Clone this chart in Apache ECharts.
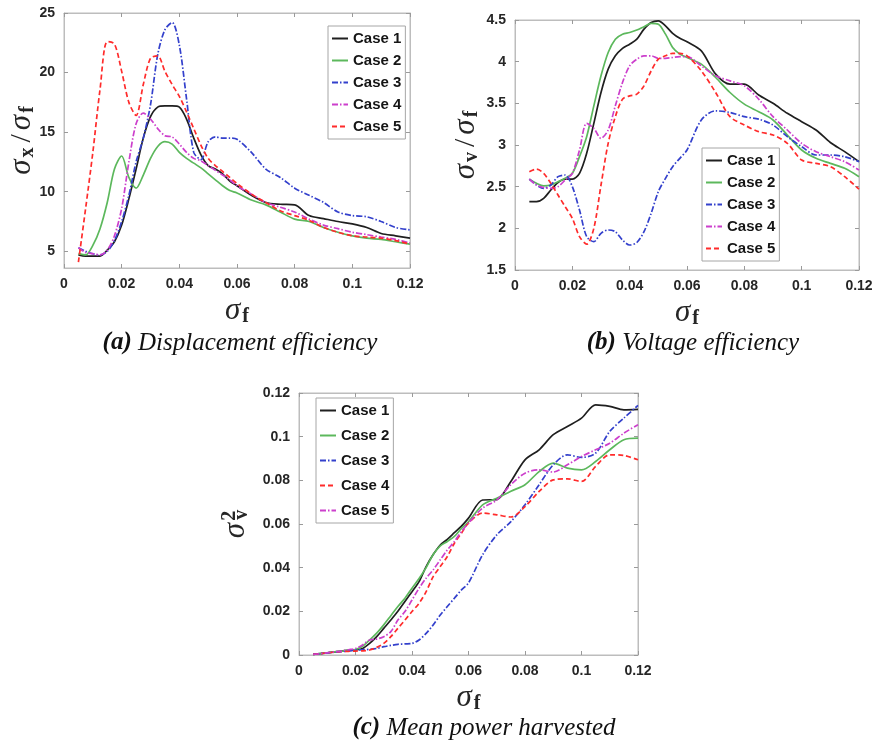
<!DOCTYPE html>
<html><head><meta charset="utf-8">
<script src="https://cdn.jsdelivr.net/npm/echarts@6/dist/echarts.min.js"></script>
<style>
body{margin:0;background:#fff;width:880px;height:744px;position:relative;overflow:hidden}
.p{position:absolute}
</style></head>
<body>
<div id="a" class="p" style="left:0;top:0;width:440px;height:360px"></div>
<div id="b" class="p" style="left:440px;top:0;width:440px;height:360px"></div>
<div id="c" class="p" style="left:220px;top:370px;width:440px;height:374px"></div>
<script>
// shared sigma_f sample points
const sigmaF = [0.005,0.0075,0.01,0.0125,0.015,0.0175,0.02,0.0225,0.025,0.0275,0.03,0.0325,0.035,0.0375,0.04,0.0425,0.045,0.0475,0.05,0.0525,0.055,0.0575,0.06,0.065,0.07,0.075,0.08,0.085,0.09,0.095,0.1,0.105,0.11,0.115,0.12];
const caseNames = ['Case 1','Case 2','Case 3','Case 4','Case 5'];
const xTicks = [0,0.02,0.04,0.06,0.08,0.1,0.12];
const yTicksA = [5,10,15,20,25];
const yTicksB = [1.5,2,2.5,3,3.5,4,4.5];
const yTicksC = [0,0.02,0.04,0.06,0.08,0.1,0.12];

// (a) displacement efficiency sigma_x / sigma_f
const dispCase1 = [4.7,4.6,4.6,4.6,5.1,5.8,7.2,9.4,11.9,14.5,16.3,17.1,17.2,17.2,17.1,16.1,14.5,13.1,12.2,11.9,11.5,10.9,10.5,9.7,9.1,8.95,8.9,8.0,7.75,7.5,7.3,7.0,6.5,6.3,6.1];
const dispCase2 = [4.8,4.7,5.5,6.9,9.1,11.9,13.0,11.2,10.3,11.4,12.8,13.8,14.2,14.0,13.3,12.8,12.4,12.0,11.5,11.0,10.5,10.1,9.9,9.3,8.9,8.3,7.7,7.5,7.0,6.6,6.3,6.1,6.0,5.8,5.6];
const dispCase3 = [5.3,5.0,4.8,4.7,5.0,5.9,7.5,9.7,12.5,14.5,17.3,21.5,23.6,24.2,22.3,17.8,13.3,12.7,14.2,14.6,14.5,14.5,14.4,13.3,11.9,11.2,10.3,9.7,9.1,8.3,8.0,7.9,7.5,7.0,6.8];
const dispCase4 = [5.3,4.9,4.8,4.7,5.1,6.3,8.6,12.5,15.7,16.6,16.1,15.3,14.7,14.6,14.0,13.3,12.8,12.6,12.2,11.8,11.4,11.0,10.5,9.8,9.1,8.7,8.3,7.7,7.2,6.9,6.6,6.4,6.2,6.0,5.7];
const dispCase5 = [4.1,8.6,13.3,18.6,22.6,22.4,20.1,17.5,16.4,19.0,21.2,21.4,20.1,19.0,18.0,16.7,15.3,13.9,12.8,12.2,11.7,11.2,10.7,9.8,9.1,8.4,8.0,7.6,7.0,6.6,6.3,6.2,6.1,5.9,5.6];

// (b) voltage efficiency sigma_v / sigma_f
const voltCase1 = [2.32,2.32,2.36,2.46,2.55,2.59,2.59,2.66,2.9,3.26,3.63,3.91,4.07,4.16,4.21,4.27,4.39,4.47,4.49,4.43,4.34,4.28,4.24,4.13,3.85,3.73,3.73,3.6,3.5,3.38,3.28,3.18,3.03,2.92,2.8];
const voltCase2 = [2.59,2.54,2.51,2.52,2.56,2.6,2.66,2.86,3.1,3.47,3.83,4.11,4.27,4.33,4.35,4.38,4.42,4.46,4.45,4.33,4.17,4.09,4.05,3.97,3.81,3.63,3.49,3.4,3.3,3.12,2.94,2.84,2.78,2.72,2.62];
const voltCase3 = [2.59,2.52,2.48,2.52,2.62,2.64,2.5,2.22,1.9,1.84,1.94,1.98,1.96,1.86,1.8,1.83,1.96,2.18,2.44,2.6,2.74,2.84,2.94,3.3,3.41,3.39,3.34,3.31,3.24,3.1,2.98,2.88,2.88,2.86,2.8];
const voltCase4 = [2.59,2.52,2.49,2.48,2.5,2.58,2.66,2.94,3.26,3.2,3.08,3.18,3.47,3.75,3.95,4.03,4.07,4.07,4.04,4.04,4.05,4.06,4.06,3.95,3.83,3.77,3.71,3.55,3.34,3.18,3.02,2.92,2.86,2.8,2.7];
const voltCase5 = [2.68,2.71,2.66,2.54,2.4,2.26,2.12,1.9,1.81,2.0,2.52,3.02,3.34,3.55,3.59,3.61,3.71,3.89,4.03,4.07,4.1,4.1,4.07,3.89,3.63,3.34,3.24,3.16,3.12,3.02,2.82,2.78,2.74,2.62,2.47];

// (c) mean power harvested sigma_v^2
const powCase1 = [0.0003,0.0006,0.001,0.0014,0.0018,0.0021,0.0023,0.003,0.0053,0.0084,0.0122,0.016,0.02,0.0245,0.029,0.0336,0.0405,0.046,0.0504,0.053,0.056,0.059,0.0627,0.071,0.0712,0.0795,0.0894,0.094,0.1009,0.1047,0.1085,0.1146,0.1139,0.1123,0.1125];
const powCase2 = [0.0003,0.0006,0.001,0.0014,0.0018,0.0022,0.0025,0.004,0.0069,0.01,0.0138,0.018,0.0222,0.026,0.0306,0.035,0.04,0.046,0.05,0.052,0.0543,0.058,0.061,0.0688,0.0718,0.075,0.078,0.084,0.0879,0.0856,0.0848,0.0886,0.094,0.0986,0.0993];
const powCase3 = [0.0003,0.0006,0.001,0.0013,0.0015,0.0019,0.0023,0.0024,0.0026,0.003,0.0038,0.0044,0.0049,0.0051,0.0053,0.0069,0.0099,0.0138,0.0183,0.0222,0.026,0.0298,0.033,0.0459,0.055,0.0611,0.0688,0.078,0.0871,0.0917,0.0905,0.0925,0.1024,0.1085,0.1143];
const powCase4 = [0.0003,0.0006,0.001,0.0013,0.0016,0.0017,0.0018,0.0019,0.0023,0.0035,0.0053,0.0084,0.0122,0.016,0.0199,0.0237,0.029,0.0359,0.0405,0.0451,0.0512,0.0558,0.0604,0.065,0.0642,0.0632,0.068,0.0749,0.0802,0.0807,0.0795,0.0864,0.0917,0.0914,0.0894];
const powCase5 = [0.0003,0.0006,0.001,0.0014,0.0018,0.0024,0.003,0.0046,0.0069,0.0073,0.0084,0.0107,0.016,0.0199,0.0252,0.0306,0.0352,0.039,0.0436,0.0481,0.052,0.0565,0.0604,0.0673,0.071,0.078,0.0833,0.0848,0.0838,0.0871,0.0909,0.094,0.097,0.1016,0.1055];

const SOLID_K = {color:'#1f1f1f', type:'solid'};
const SOLID_G = {color:'#5cb85c', type:'solid'};
const DASHDOT_B = {color:'#3340cc', type:[6,2,1.5,2]};
const DASHDOT_M = {color:'#cc3fcc', type:[6,2,1.5,2]};
const DASH_R = {color:'#ff2b2b', type:[5,3]};

const sansBold = {fontFamily:'"Liberation Sans", Arial, sans-serif', fontWeight:'bold'};
const serifFam = '"Liberation Serif", "DejaVu Serif", serif';
const nameRich = {
  s:{fontFamily:serifFam, fontStyle:'italic', fontSize:31, lineHeight:32, verticalAlign:'middle', color:'#262626', padding:[0,1,0,2], align:'left'},
  sl:{fontFamily:serifFam, fontSize:30, lineHeight:32, verticalAlign:'middle', color:'#262626', padding:[0,2,0,3], align:'left'},
  sb:{fontFamily:serifFam, fontWeight:'bold', fontSize:20, lineHeight:18, verticalAlign:'bottom', color:'#262626', padding:[0,2,0,1], align:'left'},
  sp:{fontFamily:serifFam, fontWeight:'bold', fontSize:20, lineHeight:18, verticalAlign:'top', color:'#262626', width:0, align:'left', padding:[0,0,0,1]}
};

function makeSeries(vals, st, name){
  return {type:'line', name:name, data:sigmaF.map((x,i)=>[x, vals[i]]), symbol:'none', showSymbol:false,
    smooth:0.3, animation:false, silent:true,
    lineStyle:{width:1.7, color:st.color, type:st.type}, itemStyle:{color:st.color},
    emphasis:{disabled:true}};
}

function axisCommon(){
  return {
    axisLine:{show:true, onZero:false, lineStyle:{color:'#bdbdbd', width:1}},
    axisTick:{show:true, inside:true, length:4, lineStyle:{color:'#9a9a9a'}},
    splitLine:{show:false},
    nameMoveOverlap:false,
    axisLabel:Object.assign({fontSize:14, color:'#262626', margin:9, showMinLabel:true, showMaxLabel:true}, sansBold)
  };
}

function buildPanel(el, cfg){
  const chart = echarts.init(document.getElementById(el), null, {renderer:'canvas'});
  const xa = Object.assign(axisCommon(), {type:'value', min:0, max:0.12, interval:0.02,
    name:'{s|σ}{sb|f}', nameLocation:'middle', nameGap:cfg.xNameGap, nameTextStyle:{rich:nameRich}});
  xa.axisLabel.customValues = xTicks; xa.axisTick.customValues = xTicks;
  const xTop = Object.assign(axisCommon(), {type:'value', position:'top', min:0, max:0.12, interval:0.02});
  xTop.axisLabel = {show:false}; xTop.axisTick.customValues = xTicks;
  const ya = Object.assign(axisCommon(), {type:'value', min:cfg.yMin, max:cfg.yMax,
    name:cfg.yName, nameLocation:'middle', nameGap:cfg.yNameGap, nameRotate:90, nameTextStyle:{rich:nameRich}});
  ya.axisLabel.customValues = cfg.yTicks; ya.axisTick.customValues = cfg.yTicks;
  if (cfg.yInterval) ya.interval = cfg.yInterval;
  const yRight = Object.assign(axisCommon(), {type:'value', position:'right', min:cfg.yMin, max:cfg.yMax});
  yRight.axisLabel = {show:false}; yRight.axisTick.customValues = cfg.yTicks;
  if (cfg.yInterval) yRight.interval = cfg.yInterval;
  chart.setOption({
    animation:false,
    backgroundColor:'#ffffff',
    grid:{left:cfg.grid[0], right:cfg.grid[1], top:cfg.grid[2], bottom:cfg.grid[3], show:true, borderColor:'#bdbdbd', borderWidth:1, containLabel:false, outerBoundsMode:'none'},
    xAxis:[xa, xTop],
    yAxis:[ya, yRight],
    legend:{orient:'vertical', left:cfg.legend[0], top:cfg.legend[1], itemWidth:16, itemHeight:12, itemGap:cfg.legendGap,
      padding:[5,4,5,3], backgroundColor:'#ffffff', borderColor:'#a6a6a6', borderWidth:1, selectedMode:false,
      itemStyle:{opacity:0, borderWidth:0},
      textStyle:Object.assign({fontSize:15, color:'#151515'}, sansBold), data:caseNames},
    series:cfg.series,
    graphic:[{type:'text', x:cfg.caption[0], y:cfg.caption[1], silent:true,
      style:{text:cfg.caption[2], align:'center', verticalAlign:'middle',
        rich:{b:{fontFamily:'"Liberation Serif", serif', fontStyle:'italic', fontWeight:'bold', fontSize:25, fill:'#111'},
              i:{fontFamily:'"Liberation Serif", serif', fontStyle:'italic', fontSize:25, fill:'#111'}}}}]
  });
}

buildPanel('a', {
  grid:[64,30,13,92], yMin:3.6, yMax:25, yTicks:yTicksA,
  yName:'{s|σ}{sb|x}{sl|/}{s|σ}{sb|f}', yNameGap:26, xNameGap:27,
  legend:[328,26], legendGap:7,
  caption:[240,343,'{b|(a)}{i| Displacement efficiency}'],
  series:[makeSeries(dispCase1,SOLID_K,'Case 1'), makeSeries(dispCase2,SOLID_G,'Case 2'), makeSeries(dispCase3,DASHDOT_B,'Case 3'), makeSeries(dispCase4,DASHDOT_M,'Case 4'), makeSeries(dispCase5,DASH_R,'Case 5')]
});
buildPanel('b', {
  grid:[75,21,20,90], yMin:1.5, yMax:4.5, yInterval:0.5, yTicks:yTicksB,
  yName:'{s|σ}{sb|v}{sl|/}{s|σ}{sb|f}', yNameGap:33, xNameGap:27,
  legend:[262,148], legendGap:7,
  caption:[253,343,'{b|(b)}{i| Voltage efficiency}'],
  series:[makeSeries(voltCase1,SOLID_K,'Case 1'), makeSeries(voltCase2,SOLID_G,'Case 2'), makeSeries(voltCase3,DASHDOT_B,'Case 3'), makeSeries(voltCase4,DASHDOT_M,'Case 4'), makeSeries(voltCase5,DASH_R,'Case 5')]
});
buildPanel('c', {
  grid:[79,22,23,89], yMin:0, yMax:0.12, yInterval:0.02, yTicks:yTicksC,
  yName:'{s|σ}{sp|2}{sb|v}', yNameGap:47, xNameGap:27,
  legend:[96,28], legendGap:10,
  caption:[264,358,'{b|(c)}{i| Mean power harvested}'],
  series:[makeSeries(powCase1,SOLID_K,'Case 1'), makeSeries(powCase2,SOLID_G,'Case 2'), makeSeries(powCase3,DASHDOT_B,'Case 3'), makeSeries(powCase4,DASH_R,'Case 4'), makeSeries(powCase5,DASHDOT_M,'Case 5')]
});
</script>
</body></html>
